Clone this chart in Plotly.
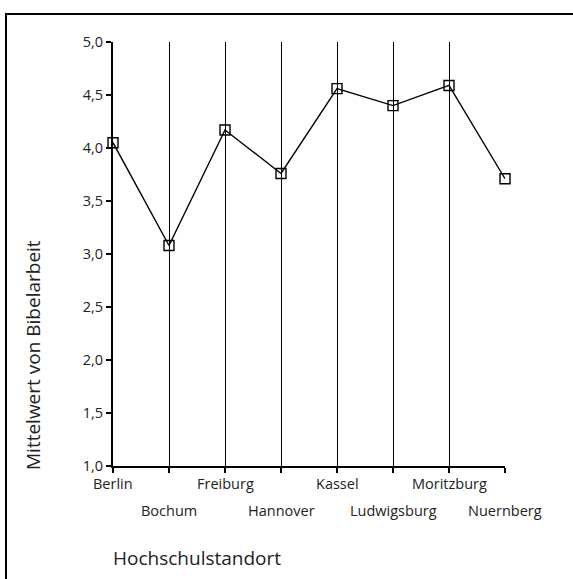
import plotly.graph_objects as go

categories = ["Berlin", "Bochum", "Freiburg", "Hannover", "Kassel", "Ludwigsburg", "Moritzburg", "Nuernberg"]
values = [4.05, 3.08, 4.17, 3.76, 4.56, 4.40, 4.59, 3.71]
y_tickvals = [1.0, 1.5, 2.0, 2.5, 3.0, 3.5, 4.0, 4.5, 5.0]
y_ticktext = ["1,0", "1,5", "2,0", "2,5", "3,0", "3,5", "4,0", "4,5", "5,0"]

W, H = 573, 579
L, R, T, B = 113, 68, 42, 113
FONT = "Open Sans"
TXT = "#222"

fig = go.Figure()
fig.add_trace(go.Scatter(
    x=list(range(len(categories))), y=values, mode="lines+markers",
    line=dict(color="black", width=1.4),
    marker=dict(symbol="square-open", size=10, color="black", line=dict(width=1.4)),
    cliponaxis=False, showlegend=False,
))

fig.update_layout(
    width=W, height=H,
    margin=dict(l=L, r=R, t=T, b=B),
    paper_bgcolor="white", plot_bgcolor="white",
    font=dict(family=FONT, size=14.5, color=TXT),
    xaxis=dict(
        range=[0, len(categories) - 1], tickvals=list(range(len(categories))),
        ticktext=["" for _ in categories],
        showgrid=True, gridcolor="black", gridwidth=1.4,
        showline=True, linecolor="black", linewidth=2,
        ticks="outside", ticklen=5, tickcolor="black", tickwidth=1.5,
        zeroline=False, fixedrange=True,
    ),
    yaxis=dict(
        range=[1.0, 5.0], tickvals=y_tickvals, ticktext=y_ticktext,
        showgrid=False, showline=True, linecolor="black", linewidth=2,
        ticks="outside", ticklen=5, tickcolor="black", tickwidth=1.5,
        zeroline=False, tickfont=dict(size=14.5, color=TXT),
    ),
)

pw = W - L - R
ph = H - T - B
for i, c in enumerate(categories):
    fig.add_annotation(
        x=i, y=0, xref="x", yref="paper", text=c, showarrow=False,
        xanchor="center", yanchor="middle",
        yshift=-17 if i % 2 == 0 else -44,
        font=dict(size=14.5, color=TXT, family=FONT),
    )

fig.add_annotation(
    x=0, y=0, xref="paper", yref="paper", text="Hochschulstandort", showarrow=False,
    xanchor="left", yanchor="middle", yshift=-92, xshift=-2,
    font=dict(size=19, color=TXT, family=FONT),
)
fig.add_annotation(
    x=0, y=0, xref="paper", yref="paper", text="Mittelwert von Bibelarbeit", showarrow=False,
    textangle=-90, xanchor="center", yanchor="bottom", xshift=-80, yshift=-6,
    font=dict(size=19, color=TXT, family=FONT),
)

# outer frame (left 6, top 14; open to the right and bottom edges)
fx0, fy0 = 6, 14
fig.add_shape(
    type="rect", xref="paper", yref="paper",
    x0=(fx0 - L) / pw, x1=(W + 20 - L) / pw,
    y0=(H - B - (H + 20)) / ph, y1=(H - B - fy0) / ph,
    line=dict(color="black", width=2), fillcolor="rgba(0,0,0,0)", layer="below",
)

fig.write_html(
    "out.html",
    config={"displayModeBar": False},
    post_script="document.body.style.margin='0';document.body.style.overflow='hidden';",
)
